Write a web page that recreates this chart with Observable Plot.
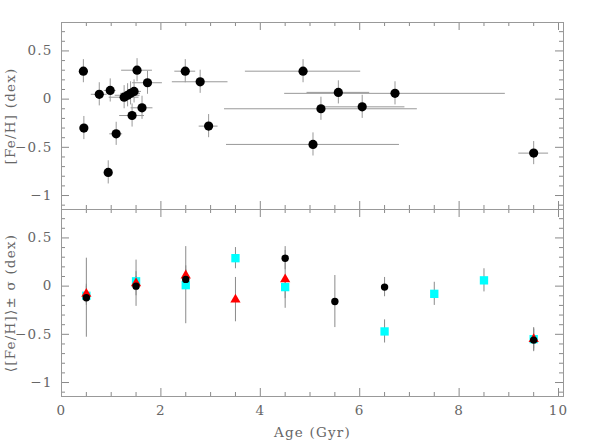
<!DOCTYPE html>
<html><head><meta charset="utf-8">
<script src="https://cdn.jsdelivr.net/npm/d3@7"></script>
<script src="https://cdn.jsdelivr.net/npm/@observablehq/plot@0.6"></script>
<style>
body{margin:0;background:#fff}
#chart{width:598px;height:447px;position:relative}
#chart svg{display:block;overflow:visible}
</style></head><body><div id="chart"></div>
<script>
// ---- Top panel: individual stars ----
const starAge    = [0.44, 0.45, 0.76, 0.94, 0.98, 1.10, 1.26, 1.33, 1.39, 1.46, 1.42, 1.52, 1.62, 1.73, 2.49, 2.79, 2.96, 4.86, 5.57, 6.71, 5.22, 6.05, 5.06, 9.50];
const starFeH    = [0.29, -0.30, 0.05, -0.76, 0.09, -0.36, 0.02, 0.04, 0.06, 0.08, -0.17, 0.30, -0.09, 0.17, 0.29, 0.18, -0.28, 0.29, 0.07, 0.06, -0.10, -0.08, -0.47, -0.56];
const starAgeErr = [0.05, 0.05, 0.16, 0.05, 0.12, 0.13, 0.30, 0.25, 0.20, 0.15, 0.25, 0.31, 0.22, 0.30, 0.21, 0.56, 0.19, 1.16, 0.63, 2.22, 1.94, 0.86, 1.74, 0.30];
const starFeHErr = [0.12, 0.12, 0.12, 0.12, 0.12, 0.12, 0.12, 0.12, 0.12, 0.12, 0.12, 0.12, 0.12, 0.12, 0.12, 0.12, 0.12, 0.12, 0.12, 0.12, 0.12, 0.12, 0.12, 0.12];

// ---- Bottom panel: binned means ----
const blackAge   = [0.5, 1.5, 2.5, 4.5, 5.5, 6.5, 9.5];
const blackMean  = [-0.12, 0.00, 0.07, 0.29, -0.16, -0.01, -0.56];
const blackSigma = [0.41, 0.10, 0.10, 0.12, 0.27, 0.10, 0.12];

const redAge     = [0.5, 1.5, 2.5, 3.5, 4.5, 9.5];
const redMean    = [-0.08, 0.03, 0.11, -0.14, 0.07, -0.55];
const redSigma   = [0.10, 0.24, 0.10, 0.23, 0.30, 0.10];

const cyanAge    = [0.5, 1.5, 2.5, 3.5, 4.5, 6.5, 7.5, 8.5, 9.5];
const cyanMean   = [-0.10, 0.05, 0.01, 0.29, -0.01, -0.47, -0.08, 0.06, -0.55];
const cyanSigma  = [0.10, 0.10, 0.40, 0.11, 0.12, 0.12, 0.12, 0.12, 0.12];

// ---- Ticks ----
const xMajor = [0, 2, 4, 6, 8, 10];
const xMinor = [0.5, 1, 1.5, 2.5, 3, 3.5, 4.5, 5, 5.5, 6.5, 7, 7.5, 8.5, 9, 9.5];
const yMajor = [-1, -0.5, 0, 0.5];
const yMinor = [-1.1, -0.9, -0.8, -0.7, -0.6, -0.4, -0.3, -0.2, -0.1, 0.1, 0.2, 0.3, 0.4, 0.6, 0.7];

const topLabel = "[Fe/H] (dex)";
const bottomLabel = "\u27E8[Fe/H]\u27E9\u00B1 \u03C3 (dex)";
const xLabel = "Age (Gyr)";

const W = 598, ML = 61, MR = 35, IH = 187;
const IW = W - ML - MR;
const xDomain = [0, 10.1], yDomain = [-1.145, 0.795];
const grey = "#8a8a8a";
const txt = "#666";
const font = {fontFamily: "DejaVu Serif", fontSize: "13.5px", color: txt, background: "white", letterSpacing: "1.2px"};
const fmt = d => String(d).replace("-", "\u2212");

const stars = starAge.map((a, i) => ({a, f: starFeH[i], ea: starAgeErr[i], ef: starFeHErr[i]}));
const mk = (ages, m, s) => ages.map((a, i) => ({a, f: m[i], s: s[i]}));
const blacks = mk(blackAge, blackMean, blackSigma);
const reds = mk(redAge, redMean, redSigma);
const cyans = mk(cyanAge, cyanMean, cyanSigma);

function tickMarks() {
  const Lmaj = 8, Lmin = 4;
  return [
    Plot.tickX(xMajor, {x: d => d, stroke: grey, insetTop: IH - Lmaj}),
    Plot.tickX(xMinor, {x: d => d, stroke: grey, insetTop: IH - Lmin}),
    Plot.tickX(xMajor, {x: d => d, stroke: grey, insetBottom: IH - Lmaj}),
    Plot.tickX(xMinor, {x: d => d, stroke: grey, insetBottom: IH - Lmin}),
    Plot.tickY(yMajor, {y: d => d, stroke: grey, insetRight: IW - Lmaj}),
    Plot.tickY(yMinor, {y: d => d, stroke: grey, insetRight: IW - Lmin}),
    Plot.tickY(yMajor, {y: d => d, stroke: grey, insetLeft: IW - Lmaj}),
    Plot.tickY(yMinor, {y: d => d, stroke: grey, insetLeft: IW - Lmin}),
    Plot.frame({stroke: "#999"})
  ];
}

const topPlot = Plot.plot({
  width: W, height: 22 + IH, marginTop: 22, marginBottom: 0, marginLeft: ML, marginRight: MR,
  style: font,
  x: {domain: xDomain, axis: null},
  y: {domain: yDomain, axis: null},
  marks: [
    Plot.ruleY(stars, {y: "f", x1: d => d.a - d.ea, x2: d => d.a + d.ea, stroke: "#999", strokeWidth: 1}),
    Plot.ruleX(stars, {x: "a", y1: d => d.f - d.ef, y2: d => d.f + d.ef, stroke: "#999", strokeWidth: 1}),
    Plot.dot(stars, {x: "a", y: "f", r: 4.6, fill: "black"}),
    ...tickMarks(),
    Plot.axisY({ticks: yMajor, tickSize: 0, tickPadding: 9, tickFormat: fmt, fill: txt, label: null}),
    Plot.text([topLabel], {text: d => d, frameAnchor: "left", dx: -51, rotate: -90, textAnchor: "middle", lineAnchor: "middle", fill: txt})
  ]
});

const bottomPlot = Plot.plot({
  width: W, height: IH + 51, marginTop: 0, marginBottom: 51, marginLeft: ML, marginRight: MR,
  style: font,
  x: {domain: xDomain, axis: null},
  y: {domain: yDomain, axis: null},
  marks: [
    Plot.ruleX(cyans, {x: "a", y1: d => d.f - d.s, y2: d => d.f + d.s, stroke: grey, strokeWidth: 1}),
    Plot.ruleX(reds, {x: "a", y1: d => d.f - d.s, y2: d => d.f + d.s, stroke: grey, strokeWidth: 1}),
    Plot.ruleX(blacks, {x: "a", y1: d => d.f - d.s, y2: d => d.f + d.s, stroke: grey, strokeWidth: 1}),
    Plot.dot(cyans, {x: "a", y: "f", r: 4.7, symbol: "square", fill: "#00ffff"}),
    Plot.dot(reds, {x: "a", y: "f", r: 3.8, symbol: "triangle", fill: "#ff0000"}),
    Plot.dot(blacks, {x: "a", y: "f", r: 3.7, fill: "black"}),
    ...tickMarks(),
    Plot.axisY({ticks: yMajor, tickSize: 0, tickPadding: 9, tickFormat: fmt, fill: txt, label: null}),
    Plot.axisX({ticks: xMajor, tickSize: 0, tickPadding: 9, tickFormat: fmt, fill: txt, label: null}),
    Plot.text([bottomLabel], {text: d => d, frameAnchor: "left", dx: -51, rotate: -90, textAnchor: "middle", lineAnchor: "middle", fill: txt}),
    Plot.text([xLabel], {text: d => d, frameAnchor: "bottom", dy: 36, textAnchor: "middle", lineAnchor: "middle", fill: txt})
  ]
});

const el = document.getElementById("chart");
el.appendChild(topPlot);
el.appendChild(bottomPlot);
</script></body></html>
